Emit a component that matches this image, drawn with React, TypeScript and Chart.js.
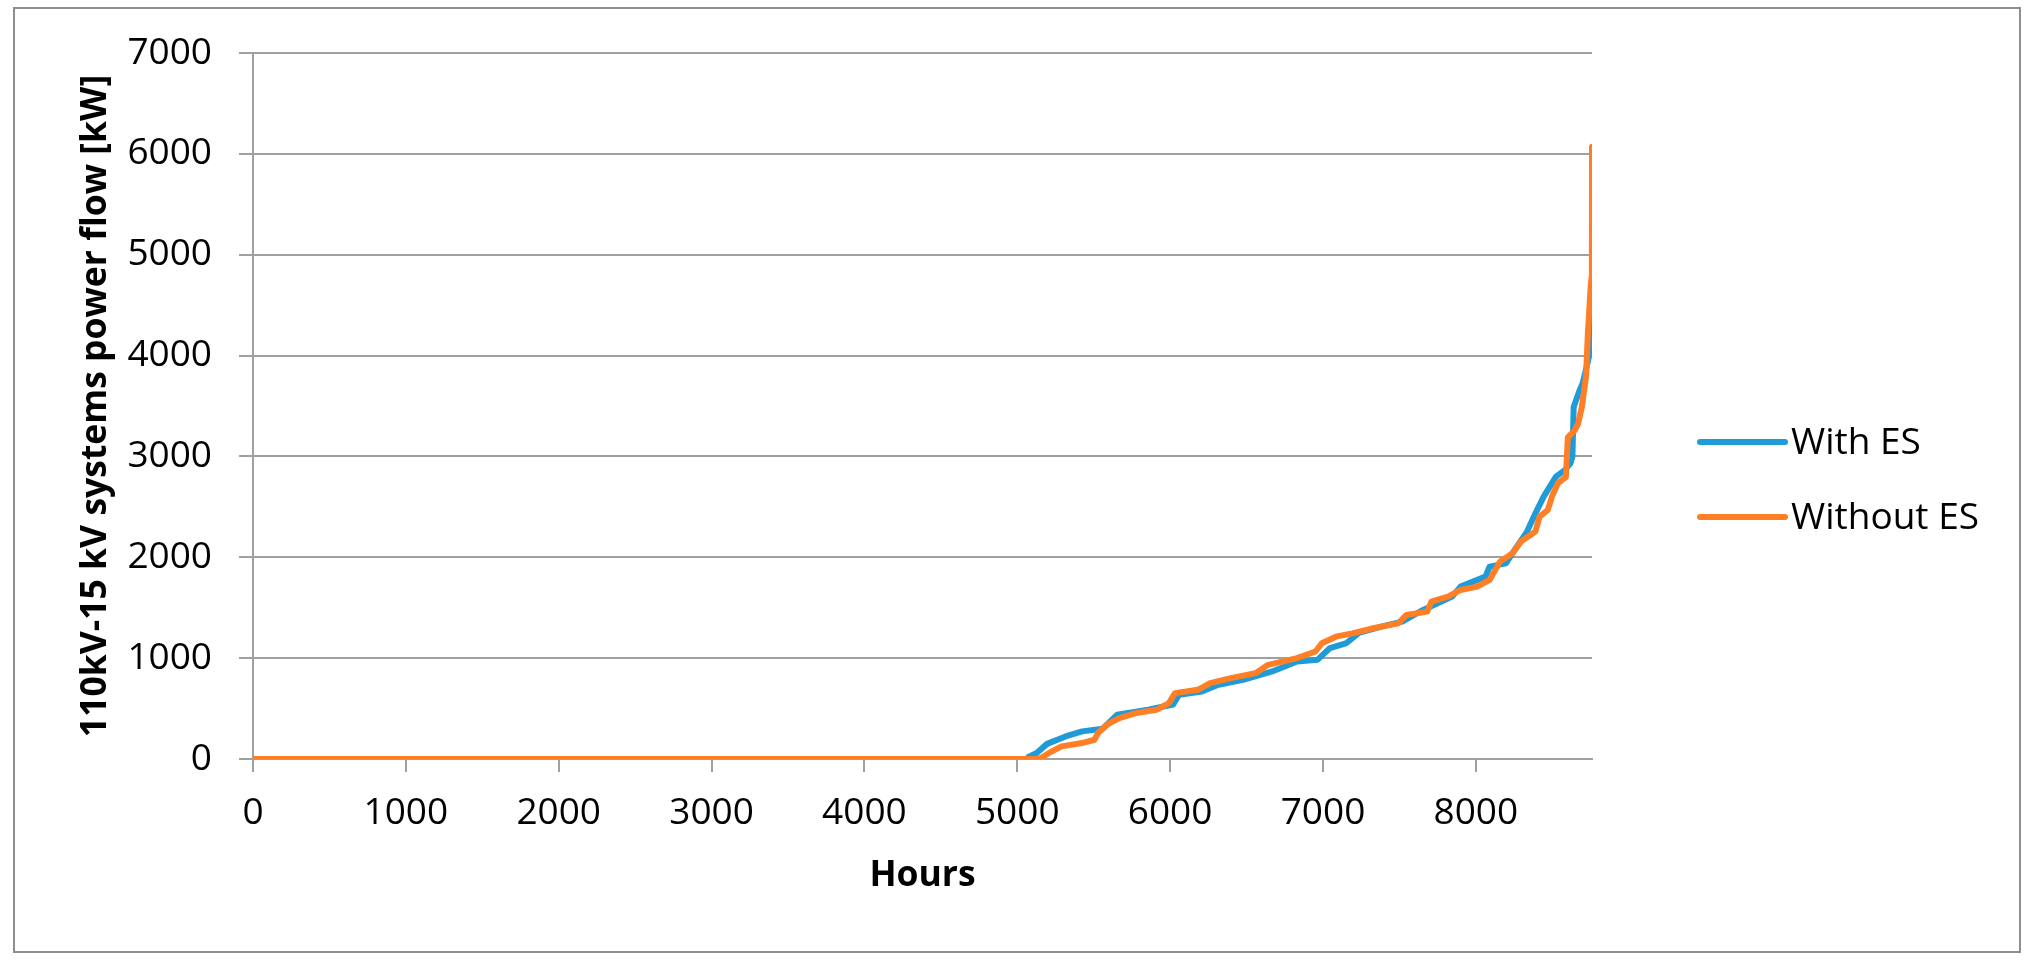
import { useEffect, useRef } from 'react';
import { Chart, registerables } from 'chart.js';

Chart.register(...registerables);

// ---- Data ----
const seriesNames = ['With ES', 'Without ES'];
const seriesColors = ['#1F9BD7', '#FF7F27'];

const withEsHours = [
  0, 5060, 5073, 5127, 5195, 5316, 5424, 5559, 5654, 5857, 6019, 6059, 6208, 6316, 6478,
  6668, 6830, 6965, 7046, 7154, 7235, 7382, 7518, 7655, 7845, 7900, 8063, 8090, 8197,
  8254, 8335, 8390, 8444, 8524, 8582, 8620, 8632, 8640, 8680, 8700, 8750, 8760,
];
const withEsValues = [
  0, 0, 20, 60, 150, 224, 274, 300, 440, 488, 540, 637, 670, 736, 785,
  868, 967, 985, 1100, 1150, 1250, 1312, 1362, 1478, 1610, 1709, 1808, 1907, 1940,
  2073, 2255, 2436, 2602, 2800, 2865, 2935, 3000, 3490, 3660, 3730, 4050, 4550,
];

const withoutEsHours = [
  0, 5120, 5154, 5208, 5289, 5424, 5505, 5530, 5586, 5668, 5776, 5911, 5992, 6032, 6181,
  6262, 6397, 6559, 6641, 6830, 6951, 6992, 7084, 7192, 7329, 7492, 7546, 7682, 7709,
  7818, 7900, 8009, 8090, 8158, 8240, 8295, 8390, 8417, 8471, 8498, 8537, 8589, 8602,
  8648, 8670, 8694, 8721, 8733, 8752, 8759, 8760,
];
const withoutEsValues = [
  0, 0, 10, 60, 125, 158, 191, 260, 340, 406, 455, 488, 554, 653, 686,
  752, 802, 851, 934, 1000, 1066, 1148, 1213, 1246, 1296, 1345, 1428, 1461, 1560,
  1610, 1676, 1709, 1775, 1957, 2040, 2155, 2255, 2403, 2469, 2602, 2735, 2795, 3190,
  3260, 3330, 3494, 3792, 4221, 4700, 4800, 6070,
];

const xTickValues = [0, 1000, 2000, 3000, 4000, 5000, 6000, 7000, 8000];
const yTickValues = [0, 1000, 2000, 3000, 4000, 5000, 6000, 7000];
const xMin = 0;
const xMax = 8760;
const yMin = 0;
const yMax = 7000;
const xTitle = 'Hours';
const yTitle = '110kV-15 kV systems power flow [kW]';

const FONT = '"Open Sans", "Noto Sans", sans-serif';
const GRID = '#A0A0A0';
const TICK_SIZE = 37;
const TITLE_SIZE = 35.5;

const toPoints = (hs: number[], vs: number[]) => hs.map((h, i) => ({ x: h, y: vs[i] }));

const frame = {
  id: 'frame',
  beforeDraw(chart: any) {
    const { ctx } = chart;
    ctx.save();
    ctx.fillStyle = '#ffffff';
    ctx.fillRect(0, 0, chart.width, chart.height);
    ctx.strokeStyle = '#8E8E8E';
    ctx.lineWidth = 2;
    ctx.strokeRect(14, 8, 2006, 944);
    ctx.restore();
  },
};

const customLegend = {
  id: 'customLegend',
  afterDraw(chart: any) {
    const { ctx, chartArea } = chart;
    const x1 = chartArea.right + 108;
    const x2 = x1 + 85;
    const lineY = 442;
    const gap = 75;
    ctx.save();
    chart.data.datasets.forEach((ds: any, i: number) => {
      const y = lineY + i * gap;
      ctx.strokeStyle = ds.borderColor;
      ctx.lineWidth = 6;
      ctx.lineCap = 'round';
      ctx.beginPath();
      ctx.moveTo(x1, y);
      ctx.lineTo(x2, y);
      ctx.stroke();
      ctx.fillStyle = '#000000';
      ctx.font = `${TICK_SIZE}px ${FONT}`;
      ctx.textBaseline = 'alphabetic';
      ctx.textAlign = 'left';
      ctx.fillText(ds.label, x2 + 6, y + 12);
    });
    ctx.restore();
  },
};

export default function App() {
  const ref = useRef<HTMLCanvasElement>(null);

  useEffect(() => {
    document.body.style.margin = '0';
    document.body.style.overflow = 'hidden';
    const canvas = ref.current;
    if (!canvas) return;
    const chart = new Chart(canvas, {
      type: 'line',
      data: {
        datasets: [
          {
            label: seriesNames[0],
            data: toPoints(withEsHours, withEsValues),
            borderColor: seriesColors[0],
            backgroundColor: seriesColors[0],
            borderWidth: 6,
            pointRadius: 0,
            tension: 0,
            order: 2,
            borderJoinStyle: 'round',
            borderCapStyle: 'round',
          },
          {
            label: seriesNames[1],
            data: toPoints(withoutEsHours, withoutEsValues),
            borderColor: seriesColors[1],
            backgroundColor: seriesColors[1],
            borderWidth: 6,
            pointRadius: 0,
            tension: 0,
            order: 1,
            borderJoinStyle: 'round',
            borderCapStyle: 'round',
          },
        ],
      },
      options: {
        responsive: false,
        animation: false,
        layout: { padding: { left: 20, top: 53, right: 451, bottom: 80 } },
        plugins: {
          legend: { display: false },
          tooltip: { enabled: false },
        },
        scales: {
          x: {
            type: 'linear',
            min: xMin,
            max: xMax,
            afterBuildTicks: (s: any) => {
              s.ticks = xTickValues.map((v) => ({ value: v }));
            },
            afterFit: (s: any) => {
              s.height = 140;
            },
            ticks: {
              color: '#000000',
              font: { family: FONT, size: TICK_SIZE },
              padding: 19,
              maxRotation: 0,
              autoSkip: false,
              callback: (v: any) => String(v),
            },
            grid: {
              drawOnChartArea: false,
              drawTicks: true,
              tickLength: 13,
              color: GRID,
              lineWidth: 2,
            },
            border: { display: true, color: GRID, width: 2 },
            title: {
              display: true,
              text: xTitle,
              color: '#000000',
              font: { family: FONT, size: TITLE_SIZE, weight: 'bold' },
              padding: { top: 0, bottom: 2 },
            },
          },
          y: {
            type: 'linear',
            min: yMin,
            max: yMax,
            afterBuildTicks: (s: any) => {
              s.ticks = yTickValues.map((v) => ({ value: v }));
            },
            afterFit: (s: any) => {
              s.width = 233;
            },
            ticks: {
              color: '#000000',
              font: { family: FONT, size: TICK_SIZE },
              padding: 27,
              callback: (v: any) => String(v),
            },
            grid: {
              color: GRID,
              lineWidth: 2,
              tickLength: 14,
            },
            border: { display: true, color: GRID, width: 2 },
            title: {
              display: true,
              text: yTitle,
              color: '#000000',
              font: { family: FONT, size: TITLE_SIZE, weight: 'bold' },
              padding: { top: 55, bottom: 0 },
            },
          },
        },
      },
      plugins: [frame, customLegend],
    });
    return () => chart.destroy();
  }, []);

  return (
    <canvas
      ref={ref}
      width={2043}
      height={979}
      style={{ display: 'block', width: '2043px', height: '979px' }}
    />
  );
}
